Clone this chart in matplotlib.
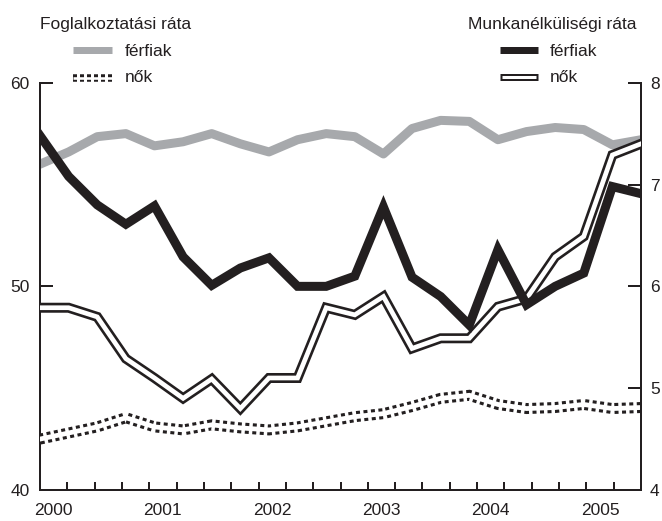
import numpy as np
import matplotlib
matplotlib.use("Agg")
import matplotlib.pyplot as plt
from matplotlib.lines import Line2D

plt.rcParams["font.family"] = ["Liberation Sans", "DejaVu Sans"]
plt.rcParams["lines.scale_dashes"] = False

INK = "#231f20"
GREY = "#a7a9ac"
FS = 12.5

# quarterly data, 2000 Q1 - 2005 Q2
years = ["2000", "2001", "2002", "2003", "2004", "2005"]
empl_men = [56.0, 56.6, 57.35, 57.5, 56.9, 57.1, 57.5, 57.0, 56.6, 57.2, 57.5,
            57.35, 56.5, 57.75, 58.15, 58.1, 57.2, 57.6, 57.8, 57.7, 56.95, 57.2]
empl_women = [42.5, 42.8, 43.1, 43.55, 43.1, 42.95, 43.2, 43.05, 42.95, 43.1, 43.35,
              43.6, 43.75, 44.1, 44.5, 44.65, 44.2, 44.0, 44.05, 44.2, 44.0, 44.05]
unemp_men = [7.48, 7.08, 6.8, 6.61, 6.79, 6.29, 6.01, 6.18, 6.28, 6.0, 6.0,
             6.1, 6.78, 6.09, 5.9, 5.62, 6.36, 5.82, 6.0, 6.13, 6.98, 6.91]
unemp_women = [5.79, 5.79, 5.70, 5.29, 5.10, 4.9, 5.09, 4.80, 5.10, 5.10, 5.79,
               5.72, 5.90, 5.39, 5.49, 5.49, 5.80, 5.88, 6.29, 6.49, 7.29, 7.40]

W, H = 662, 521
PT = 0.72  # points per pixel at dpi 100

fig = plt.figure(figsize=(W / 100, H / 100), dpi=100)
ax = fig.add_axes([40 / W, 1 - 490 / H, (641 - 40) / W, (490 - 82.7) / H])
ax2 = ax.twinx()

q = np.arange(len(empl_men))

# employment (left axis)
ax.plot(q, empl_men, color=GREY, lw=9 * PT, solid_joinstyle="round", zorder=2)
ax.plot(q, empl_women, color=INK, lw=11 * PT, dashes=(4 * PT, 3.5 * PT),
        dash_capstyle="butt", dash_joinstyle="miter", zorder=2)
ax.plot(q, empl_women, color="white", lw=4.8 * PT, solid_joinstyle="miter", zorder=3)

# unemployment (right axis)
ax2.plot(q, unemp_women, color=INK, lw=10 * PT, solid_joinstyle="miter", zorder=2)
ax2.plot(q, unemp_women, color="white", lw=4.7 * PT, solid_joinstyle="miter", zorder=3)
ax2.plot(q, unemp_men, color=INK, lw=9 * PT, solid_joinstyle="miter", zorder=4)

n = len(q) - 1
bounds = np.linspace(0, n, n + 2)
ax.set_xlim(0, n)
ax.set_xticks(bounds)
ax.set_xticklabels([])
ax.set_xticks([(bounds[4 * k] + bounds[4 * k + 1]) / 2 for k in range(len(years))], minor=True)
ax.set_xticklabels(years, minor=True)

ax.set_ylim(40, 60)
ax.set_yticks([40, 50, 60])
ax2.set_ylim(4, 8)
ax2.set_yticks([4, 5, 6, 7, 8])

for a in (ax, ax2):
    a.spines["top"].set_visible(False)
    for s in a.spines.values():
        s.set_linewidth(2 * PT)
        s.set_color(INK)
ax2.spines["left"].set_visible(False)
ax2.spines["bottom"].set_visible(False)

ax.tick_params(axis="x", which="major", direction="in", length=8.5 * PT, width=2 * PT, color=INK)
ax.tick_params(axis="x", which="minor", length=0, pad=9.5, labelsize=FS, labelcolor=INK)
ax.tick_params(axis="y", direction="in", length=13.5 * PT, width=2 * PT, color=INK,
               pad=7.5, labelsize=FS, labelcolor=INK)
ax2.tick_params(axis="y", direction="in", length=13.5 * PT, width=2 * PT, color=INK,
                pad=6.5, labelsize=FS, labelcolor=INK)


def fx(x):
    return x / W


def fy(y):
    return 1 - y / H


def sample(x0, x1, y, **kw):
    fig.add_artist(Line2D([fx(x0), fx(x1)], [fy(y), fy(y)], transform=fig.transFigure, **kw))


# legend, left
fig.text(fx(40), fy(25), "Foglalkoztatási ráta", ha="left", va="center", fontsize=FS, color=INK)
sample(73, 112, 50, color=GREY, lw=7 * PT, solid_capstyle="butt")
sample(73, 112, 78, color=INK, lw=7.5 * PT, dashes=(4 * PT, 3 * PT), dash_capstyle="butt")
sample(73, 112, 78, color="white", lw=2.6 * PT, solid_capstyle="butt")
fig.text(fx(125), fy(51), "férfiak", ha="left", va="center", fontsize=FS, color=INK)
fig.text(fx(125), fy(77), "nők", ha="left", va="center", fontsize=FS, color=INK)

# legend, right
fig.text(fx(637), fy(25), "Munkanélküliségi ráta", ha="right", va="center", fontsize=FS, color=INK)
sample(500, 538, 50, color=INK, lw=7 * PT, solid_capstyle="butt")
sample(500, 538, 77, color=INK, lw=7 * PT, solid_capstyle="butt")
sample(502, 536, 77, color="white", lw=3 * PT, solid_capstyle="butt")
fig.text(fx(550), fy(51), "férfiak", ha="left", va="center", fontsize=FS, color=INK)
fig.text(fx(550), fy(77), "nők", ha="left", va="center", fontsize=FS, color=INK)

fig.savefig("out.png", dpi=100)
